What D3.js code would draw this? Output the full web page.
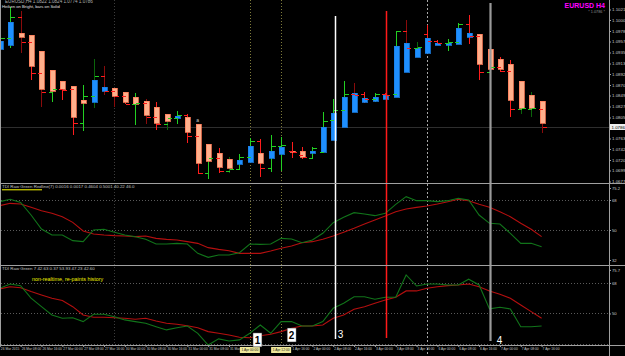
<!DOCTYPE html>
<html>
<head>
<meta charset="utf-8">
<script src="https://cdn.jsdelivr.net/npm/d3@7/dist/d3.min.js"></script>
<style>
html, body { margin:0; padding:0; background:#000; }
svg { display:block; }
text { font-family: "Liberation Sans", Arial, sans-serif; }
</style>
</head>
<body>
<div id="chart"></div>
<script>
// EURUSD H4 bars (open/high/low/close ticks) with Heiken-Ashi style bodies
var barOpen = [1.0948,1.0964,1.1006,1.0956,1.0894,1.0856,1.0862,1.0862,1.0794,1.0848,
  1.0888,1.0858,1.0848,1.0832,1.0834,1.0806,1.0792,1.0804,1.0810,1.0768,
  1.0694,1.0724,1.0698,1.0702,1.0726,1.0758,1.0704,1.0748,1.0738,1.0730,
  1.0724,1.0736,1.0800,1.0820,1.0852,1.0852,1.0842,1.0852,1.0852,1.0978,
  1.0944,1.0972,1.0958,1.0954,1.0956,1.0992,1.0968,1.0896,1.0906,1.0898,
  1.0822,1.0822,1.0822];
var barHigh = [1.0968,1.1026,1.1018,1.0970,1.0938,1.0866,1.0866,1.0864,1.0870,1.0922,
  1.0908,1.0864,1.0856,1.0854,1.0842,1.0836,1.0804,1.0818,1.0812,1.0792,
  1.0746,1.0744,1.0726,1.0732,1.0764,1.0762,1.0770,1.0766,1.0756,1.0746,
  1.0746,1.0816,1.0842,1.0878,1.0874,1.0856,1.0854,1.0854,1.0978,1.1000,
  1.0956,1.0990,1.0960,1.0962,1.0994,1.1010,1.0972,1.0908,1.0926,1.0920,
  1.0850,1.0856,1.0824];
var barLow = [1.0940,1.0944,1.0934,1.0880,1.0826,1.0836,1.0840,1.0770,1.0778,1.0824,
  1.0850,1.0826,1.0832,1.0790,1.0792,1.0780,1.0780,1.0792,1.0754,1.0692,
  1.0682,1.0694,1.0694,1.0700,1.0722,1.0686,1.0696,1.0698,1.0724,1.0722,
  1.0724,1.0736,1.0760,1.0786,1.0816,1.0834,1.0836,1.0842,1.0846,1.0944,
  1.0926,1.0954,1.0952,1.0938,1.0954,1.0952,1.0880,1.0894,1.0896,1.0806,
  1.0812,1.0806,1.0774];
var barClose = [1.0964,1.1006,1.0956,1.0894,1.0856,1.0862,1.0860,1.0794,1.0848,1.0888,
  1.0858,1.0848,1.0832,1.0834,1.0806,1.0792,1.0804,1.0810,1.0768,1.0694,
  1.0724,1.0698,1.0702,1.0726,1.0758,1.0704,1.0748,1.0750,1.0736,1.0726,
  1.0744,1.0798,1.0820,1.0852,1.0850,1.0842,1.0852,1.0850,1.0978,1.0944,
  1.0946,1.0958,1.0954,1.0956,1.0992,1.0968,1.0896,1.0906,1.0898,1.0822,
  1.0824,1.0824,1.0786];
var haOpen = [1.0942,1.0950,1.0974,1.0970,1.0938,1.0900,1.0878,1.0868,1.0840,1.0836,
  1.0858,1.0864,1.0856,1.0846,1.0838,1.0826,1.0812,1.0804,1.0806,1.0792,
  1.0752,1.0734,1.0722,1.0712,1.0716,1.0734,1.0724,1.0732,1.0738,1.0738,
  1.0734,1.0736,1.0760,1.0786,1.0816,1.0836,1.0838,1.0842,1.0846,1.0896,
  1.0926,1.0934,1.0950,1.0950,1.0952,1.0966,1.0972,1.0942,1.0922,1.0912,
  1.0878,1.0850,1.0838];
var haClose = [1.0958,1.0996,1.0966,1.0908,1.0862,1.0858,1.0862,1.0806,1.0834,1.0880,
  1.0866,1.0848,1.0836,1.0832,1.0810,1.0794,1.0798,1.0808,1.0776,1.0714,
  1.0718,1.0706,1.0704,1.0720,1.0748,1.0714,1.0738,1.0746,1.0736,1.0726,
  1.0738,1.0786,1.0814,1.0846,1.0854,1.0844,1.0846,1.0850,1.0948,1.0954,
  1.0944,1.0964,1.0954,1.0954,1.0984,1.0974,1.0912,1.0902,1.0902,1.0840,
  1.0824,1.0824,1.0794];
// 1 = bright wick, 0 = dim wick
var wickBright = [1,1,0,1,0,1,1,1,1,0, 0,0,1,1,0,1,0,1,1,1,
  1,1,0,1,1,1,1,1,1,1, 1,1,1,1,0,1,1,1,1,0, 0,1,1,1,1,1,1,1,1,1, 0,0,0];

// TDI panels
var tdiGreen1 = [67.0,68.4,66.5,59.0,50.6,47.0,47.0,43.6,43.0,50.0,
  50.4,48.6,47.0,46.0,44.4,41.6,41.6,42.0,41.6,36.0,
  33.6,35.0,35.0,36.4,41.6,41.4,41.6,45.0,44.6,42.4,
  44.0,48.0,54.4,57.6,60.4,59.6,58.6,60.0,65.4,70.0,
  67.6,67.6,67.0,67.6,69.0,68.0,59.0,54.0,53.6,48.0,
  42.0,42.0,40.0];
var tdiRed1 = [64.6,66.0,65.6,63.6,61.6,60.0,58.0,54.6,49.4,47.6,
  47.0,46.6,46.4,46.0,46.4,45.0,44.4,44.0,43.0,42.0,
  39.4,38.4,37.6,36.0,36.0,36.0,37.4,39.0,40.4,42.4,
  43.0,44.4,46.4,48.6,51.0,53.6,56.0,58.4,61.0,62.6,
  63.6,64.4,65.6,67.0,68.4,67.6,65.4,63.6,61.0,58.0,
  54.0,50.4,46.0];
var tdiGreen2 = [64.9,67.4,66.4,59.0,54.0,49.1,47.2,47.5,45.2,49.5,
  49.5,48.1,46.2,45.2,44.2,42.2,40.3,41.6,42.6,38.3,
  31.4,35.0,33.8,34.4,38.3,43.2,38.3,45.2,45.2,42.6,
  42.6,45.2,53.1,56.0,59.9,59.9,58.4,59.6,59.6,72.7,
  66.2,67.4,67.4,66.8,66.8,70.2,66.8,52.7,53.7,52.7,
  42.2,42.2,42.6];
var tdiRed2 = [64.5,65.8,65.2,62.9,60.9,59.0,57.6,54.0,49.1,47.8,
  47.8,47.5,47.2,46.6,47.2,45.6,44.2,43.6,42.8,41.6,
  39.3,38.3,37.3,36.0,35.7,36.9,37.7,39.3,41.3,42.6,
  42.6,43.2,47.2,49.1,52.5,54.0,56.0,58.0,59.6,63.3,
  63.3,64.9,65.8,66.4,66.8,67.4,65.8,63.3,61.3,59.0,
  55.0,51.1,47.2];
var tdiLevels = [68, 50, 32];
var tdiScale1 = [75.2, 68, 50, 32];
var tdiScale2 = [75.7, 68, 50];

// axis labels
var priceTicks = [1.1021,1.1000,1.0978,1.0957,1.0935,1.0913,1.0892,1.0870,1.0849,1.0827,1.0805,
  1.0763,1.0742,1.0720,1.0699,1.0677];
var lastPrice = 1.0786;
var timeTickBars = [0,2,4,6,8,10,12,14,16,18,20,22,28,30,32,34,36,38,40,42,44,46,48,50,52];
var timeLabels = ["26 Mar 2015","26 Mar 08:00","26 Mar 16:00","27 Mar 00:00","27 Mar 08:00","27 Mar 16:00",
  "30 Mar 00:00","30 Mar 08:00","30 Mar 16:00","31 Mar 00:00","31 Mar 08:00","31 Mar 16:00",
  "1 Apr 16:00","2 Apr 00:00","2 Apr 08:00","2 Apr 16:00",
  "3 Apr 00:00","3 Apr 08:00","3 Apr 16:00","6 Apr 00:00","6 Apr 08:00","6 Apr 16:00",
  "7 Apr 00:00","7 Apr 08:00","7 Apr 16:00"];

// vertical objects (bar positions)
var gridBars = [11];
var timeLineBars = [24, 27];
var timeLineLabels = ["1 Apr 00:00", "1 Apr 12:00"];
var dotLineBar = 41;
var signalBars = [32.2, 37.1, 47];
var signalTops = [1.1008, 1.1018, 1.1034];
var signalBottoms = [35.0, 35.6, 33.8];

// numbered notes (bar position, TDI-2 value)
var noteText = ["1", "2", "3", "4"];
var noteBar = [24.73, 28.01, 32.7, 47.97];
var noteVal = [34.4, 37.3, 37.9, 34.1];

var W = 625, H = 356, right = 609;

var x = d3.scaleLinear().domain([0, 52]).range([-0.2, 541.6]);
var y = d3.scaleLinear().domain([1.0674, 1.1040]).range([183, 0]);
var y1 = d3.scaleLinear().domain([29, 77.6]).range([265, 184]);
var y2 = d3.scaleLinear().domain([31.4, 78.0]).range([345, 266]);

var svg = d3.select("#chart").append("svg")
    .attr("width", W).attr("height", H)
    .style("background", "#000");

var defs = svg.append("defs");
defs.append("clipPath").attr("id", "clipMain").append("rect")
    .attr("x", 1).attr("y", 0).attr("width", right - 1).attr("height", 182);
defs.append("clipPath").attr("id", "clipT1").append("rect")
    .attr("x", 1).attr("y", 184).attr("width", right - 1).attr("height", 81);
defs.append("clipPath").attr("id", "clipT2").append("rect")
    .attr("x", 1).attr("y", 266).attr("width", right - 1).attr("height", 80);

function px(i) { return Math.round(x(i)) + 0.5; }

// ---- vertical lines (behind everything)
var vg = svg.append("g").attr("shape-rendering", "crispEdges");
vg.selectAll(".grid").data(gridBars).enter().append("line")
    .attr("x1", px).attr("x2", px).attr("y1", 0).attr("y2", 345)
    .attr("stroke", "#3c3c3c").attr("stroke-dasharray", "1,2");
vg.selectAll(".tl").data(timeLineBars).enter().append("line")
    .attr("x1", px).attr("x2", px).attr("y1", 0).attr("y2", 350)
    .attr("stroke", "#7d7a3a").attr("stroke-dasharray", "1,2");
vg.append("line")
    .attr("x1", px(dotLineBar)).attr("x2", px(dotLineBar)).attr("y1", 0).attr("y2", 356)
    .attr("stroke", "#a8a8a8").attr("stroke-dasharray", "2,2");

// bid line
svg.append("line").attr("shape-rendering", "crispEdges")
    .attr("x1", 1).attr("x2", right).attr("y1", Math.round(y(lastPrice)) + 0.5).attr("y2", Math.round(y(lastPrice)) + 0.5)
    .attr("stroke", "#2e2e2e");

// ---- TDI level lines
[[y1, [68, 50]], [y2, tdiLevels]].forEach(function(p) {
  svg.append("g").attr("shape-rendering", "crispEdges")
    .selectAll("line").data(p[1]).enter().append("line")
      .attr("x1", 1).attr("x2", right)
      .attr("y1", function(d) { return Math.round(p[0](d)) + 0.5; })
      .attr("y2", function(d) { return Math.round(p[0](d)) + 0.5; })
      .attr("stroke", "#5a5a5a").attr("stroke-dasharray", "1,2");
});

// ---- price bars
var bars = d3.range(barOpen.length).map(function(i) {
  return {i: i, o: barOpen[i], h: barHigh[i], l: barLow[i], c: barClose[i],
          ho: haOpen[i], hc: haClose[i], bright: wickBright[i]};
});
var mg = svg.append("g").attr("clip-path", "url(#clipMain)").attr("shape-rendering", "crispEdges");

function tickColor(d) { return d.c >= d.o ? "#22d022" : "#ff1c1c"; }
function wickColor(d) {
  if (d.c >= d.o) return d.bright ? "#22d022" : "#0b650b";
  return d.bright ? "#ff1c1c" : "#8a0b0b";
}

var bar = mg.selectAll(".bar").data(bars).enter().append("g").attr("class", "bar");
bar.append("line")
    .attr("x1", function(d) { return px(d.i); }).attr("x2", function(d) { return px(d.i); })
    .attr("y1", function(d) { return Math.round(y(d.h)); })
    .attr("y2", function(d) { return Math.round(y(d.l)); })
    .attr("stroke", wickColor).attr("stroke-width", 1.2);
bar.append("rect")
    .attr("x", function(d) { return Math.round(x(d.i)) - 2; })
    .attr("width", 5)
    .attr("y", function(d) { return Math.round(y(Math.max(d.ho, d.hc))); })
    .attr("height", function(d) { return Math.max(1, Math.round(Math.abs(y(d.ho) - y(d.hc)))); })
    .attr("fill", function(d) { return d.hc >= d.ho ? "#1e8fff" : "#ffb08c"; })
    .attr("stroke", function(d) { return d.hc >= d.ho ? "#1a7fe6" : "#ff7c58"; })
    .attr("stroke-width", 0.8);
bar.append("line")
    .attr("x1", function(d) { return px(d.i) - 4; }).attr("x2", function(d) { return px(d.i); })
    .attr("y1", function(d) { return Math.round(y(d.o)) + 0.5; })
    .attr("y2", function(d) { return Math.round(y(d.o)) + 0.5; })
    .attr("stroke", tickColor).attr("stroke-width", 1.5);
bar.append("line")
    .attr("x1", function(d) { return px(d.i); }).attr("x2", function(d) { return px(d.i) + 4; })
    .attr("y1", function(d) { return Math.round(y(d.c)) + 0.5; })
    .attr("y2", function(d) { return Math.round(y(d.c)) + 0.5; })
    .attr("stroke", tickColor).attr("stroke-width", 1.5);

// small arrow label above bar 19
mg.append("text").attr("x", x(19)).attr("y", y(1.07966)).attr("text-anchor", "middle")
    .attr("font-size", 5).attr("fill", "#c8c8c8").text("a");

// ---- TDI lines
function drawLines(scale, clip, green, red) {
  var g = svg.append("g").attr("clip-path", "url(#" + clip + ")");
  var line = d3.line().x(function(d, i) { return x(i); }).y(function(d) { return scale(d); });
  g.append("path").attr("d", line(red)).attr("fill", "none").attr("stroke", "#b40f0f").attr("stroke-width", 1.1);
  g.append("path").attr("d", line(green)).attr("fill", "none").attr("stroke", "#11741a").attr("stroke-width", 1.1);
}
drawLines(y1, "clipT1", tdiGreen1, tdiRed1);
drawLines(y2, "clipT2", tdiGreen2, tdiRed2);

// ---- signal lines (white, red, grey)
var sigColors = ["#ffffff", "#ff1a1a", "#9a9a9a"];
var sigWidths = [1.5, 1.5, 2.2];
svg.append("g").selectAll("line").data(signalBars).enter().append("line")
    .attr("x1", function(d) { return Math.round(x(d)) + 0.5; })
    .attr("x2", function(d) { return Math.round(x(d)) + 0.5; })
    .attr("y1", function(d, i) { return y(signalTops[i]); })
    .attr("y2", function(d, i) { return y2(signalBottoms[i]); })
    .attr("stroke", function(d, i) { return sigColors[i]; })
    .attr("stroke-width", function(d, i) { return sigWidths[i]; });

// ---- frames
var fr = svg.append("g").attr("shape-rendering", "crispEdges").attr("stroke", "#a0a0a0");
[183, 265, 345].forEach(function(yy) {
  fr.append("line").attr("x1", 0).attr("x2", W).attr("y1", yy + 0.5).attr("y2", yy + 0.5).attr("stroke-width", 1.5);
});
fr.append("line").attr("x1", 0.5).attr("x2", 0.5).attr("y1", 0).attr("y2", 345);
fr.append("line").attr("x1", right + 0.5).attr("x2", right + 0.5).attr("y1", 0).attr("y2", H);

// ---- price axis
var yAxis = d3.axisRight(y).tickValues(priceTicks).tickFormat(d3.format(".4f")).tickSize(2).tickPadding(1);
var ya = svg.append("g").attr("transform", "translate(" + right + ",0)").call(yAxis);
ya.select(".domain").remove();
ya.selectAll("line").attr("stroke", "#a0a0a0");
ya.selectAll("text").attr("font-size", 4.4).attr("fill", "#c8c8c8");

ya.append("rect").attr("x", 1).attr("y", y(lastPrice) - 3).attr("width", 15).attr("height", 6).attr("fill", "#f0f0f0");
ya.append("text").attr("x", 2.5).attr("y", y(lastPrice)).attr("dy", "0.35em")
    .attr("font-size", 4.4).attr("fill", "#000").text(d3.format(".4f")(lastPrice));

// TDI axes
[[y1, tdiScale1], [y2, tdiScale2]].forEach(function(p) {
  var a = svg.append("g").attr("transform", "translate(" + right + ",0)")
    .call(d3.axisRight(p[0]).tickValues(p[1]).tickFormat(function(d) { return d.toFixed(d % 1 ? 1 : 0); }).tickSize(2).tickPadding(1));
  a.select(".domain").remove();
  a.selectAll("line").attr("stroke", "#a0a0a0");
  a.selectAll("text").attr("font-size", 4.2).attr("fill", "#c8c8c8");
});

// ---- time axis
var xAxis = d3.axisBottom(x).tickValues(timeTickBars)
    .tickFormat(function(d, i) { return timeLabels[i]; }).tickSize(2).tickPadding(1);
var xa = svg.append("g").attr("transform", "translate(0,345)").call(xAxis);
xa.select(".domain").remove();
xa.selectAll("line").attr("stroke", "#a0a0a0");
xa.selectAll("text").attr("font-size", 3.3).attr("fill", "#c8c8c8").attr("text-anchor", "start").attr("dx", "0.5");

// highlighted time-line labels
var tlab = svg.append("g").selectAll("g").data(timeLineBars).enter().append("g")
    .attr("transform", function(d) { return "translate(" + x(d) + ",350)"; });
tlab.append("rect").attr("x", -10).attr("y", -3).attr("width", 20).attr("height", 6).attr("fill", "#eee79a");
tlab.append("text").attr("text-anchor", "middle").attr("dy", "0.35em")
    .attr("font-size", 3.3).attr("fill", "#202020")
    .text(function(d, i) { return timeLineLabels[i]; });

// ---- headers and titles
svg.append("text").attr("x", 5).attr("y", 3).attr("font-size", 4.6).attr("fill", "#b0b0b0")
    .text("EURUSD,H4  1.0822 1.0824 1.0774 1.0786");
svg.append("text").attr("x", 2).attr("y", 7.5).attr("font-size", 4.2).attr("fill", "#e0e0e0")
    .text("Heiken on Bright, bars on Solid");
svg.append("text").attr("x", 605).attr("y", 8).attr("text-anchor", "end")
    .attr("font-size", 7).attr("font-weight", "bold").attr("fill", "#ff00ff").text("EURUSD H4");
svg.append("text").attr("x", 605).attr("y", 12.5).attr("text-anchor", "end")
    .attr("font-size", 3.8).attr("fill", "#909090").text("* 1.0786 *");

svg.append("text").attr("x", 2).attr("y", 188).attr("font-size", 4.4).attr("fill", "#c0c0c0")
    .text("TDI Raw Green Redline(7)  0.0016 0.0017 0.4604 0.5001 40.22 46.0");
svg.append("line").attr("x1", 2).attr("x2", 42).attr("y1", 189.8).attr("y2", 189.8)
    .attr("stroke", "#ffff00").attr("stroke-width", 1);
svg.append("text").attr("x", 2).attr("y", 270).attr("font-size", 4.4).attr("fill", "#c0c0c0")
    .text("TDI Raw Green 7  42.63 0.37 53.93 47.23 42.60");
svg.append("text").attr("x", 32).attr("y", 281).attr("font-size", 5.4).attr("fill", "#f0f000")
    .text("non-realtime, re-paints history");

// ---- numbered notes
var notes = svg.append("g").selectAll("g").data(noteText).enter().append("g")
    .attr("transform", function(d, i) { return "translate(" + x(noteBar[i]) + "," + y2(noteVal[i]) + ")"; });
notes.filter(function(d, i) { return i < 2; }).append("rect")
    .attr("x", -4.5).attr("y", -7).attr("width", 9).attr("height", 14)
    .attr("fill", "#ffffff").attr("stroke", "#202020").attr("stroke-width", 0.5);
notes.append("text").attr("text-anchor", "middle").attr("dy", "0.36em")
    .attr("font-size", 10).attr("font-weight", function(d, i) { return i < 2 ? "bold" : "normal"; })
    .attr("fill", function(d, i) { return i < 2 ? "#000" : "#fff"; })
    .text(function(d) { return d; });
</script>
</body>
</html>
